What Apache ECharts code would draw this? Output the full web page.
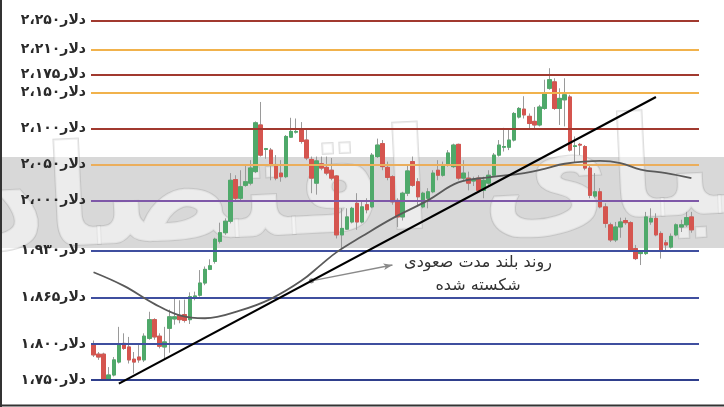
<!DOCTYPE html>
<html><head><meta charset="utf-8">
<script src="https://cdn.jsdelivr.net/npm/echarts@6/dist/echarts.min.js"></script>
<style>html,body{margin:0;padding:0;background:#fff}#c{width:724px;height:407px}</style>
</head><body><div id="c"></div>
<script>
// ---- data ----
// [open, close, low, high]
const candles = [
[1799,1785,1782,1805],[1786,1782,1778,1789],[1786,1751,1750,1788],[1751,1757,1750,1768],[1757,1778,1755,1782],
[1775,1799,1773,1824],[1801,1794,1792,1815],[1796,1778,1773,1810],[1779,1775,1759,1789],[1782,1778,1774,1801],
[1778,1811,1775,1815],[1808,1834,1806,1845],[1834,1810,1806,1836],[1811,1797,1794,1815],[1796,1803,1778,1824],
[1822,1838,1788,1848],[1835,1838,1827,1864],[1840,1834,1829,1861],[1841,1833,1830,1862],[1834,1866,1828,1872],
[1864,1867,1861,1873],[1868,1885,1866,1903],[1885,1904,1882,1908],[1904,1909,1903,1918],[1915,1946,1912,1948],
[1943,1955,1940,1969],[1955,1971,1952,1975],[1971,2028,1968,2038],[2029,2003,2000,2035],[2003,2019,2000,2042],
[2021,2026,2019,2049],[2024,2045,2021,2056],[2040,2108,2038,2110],[2105,2063,2061,2137],[2071,2072,2058,2073],
[2070,2049,2028,2073],[2050,2031,2028,2063],[2038,2033,2026,2056],[2033,2089,2031,2091],[2088,2096,2087,2115],
[2095,2096,2093,2114],[2098,2082,2079,2109],[2084,2059,2056,2098],[2057,2031,2010,2061],[2024,2055,2008,2061],
[2051,2045,2042,2061],[2046,2038,2035,2061],[2042,2031,2028,2059],[2034,1952,1947,2035],[1952,1961,1933,1989],
[1960,1977,1959,1989],[1970,1989,1968,1991],[1996,1970,1959,2010],[1970,1991,1968,1998],[1994,1987,1982,2003],
[1991,2063,1989,2066],[2061,2077,2059,2086],[2079,2047,2042,2084],[2046,2032,2028,2054],[2033,1998,1994,2035],
[2000,1977,1963,2003],[1977,2010,1972,2012],[2010,2041,2006,2050],[2054,2021,2019,2061],[2026,2005,1991,2031],
[1991,2010,1989,2012],[2003,2012,1989,2017],[2012,2038,2010,2042],[2042,2035,2028,2056],[2035,2048,2033,2054],
[2049,2066,2047,2070],[2047,2077,2045,2079],[2078,2031,2028,2079],[2031,2038,2028,2056],[2031,2024,2014,2040],
[2027,2029,2020,2033],[2031,2014,2012,2035],[2014,2028,2003,2033],[2024,2035,2021,2042],[2035,2063,2033,2066],
[2063,2077,2061,2084],[2074,2075,2068,2101],[2074,2084,2070,2098],[2084,2121,2082,2123],[2116,2128,2114,2130],
[2127,2119,2114,2145],[2117,2107,2100,2121],[2110,2105,2098,2130],[2105,2130,2103,2133],[2128,2150,2126,2168],
[2156,2168,2154,2184],[2165,2128,2126,2170],[2128,2142,2105,2156],[2140,2147,2103,2170],[2144,2070,2068,2147],
[2075,2076,2052,2089],[2078,2077,2063,2080],[2075,2045,2042,2077],[2045,2007,2003,2049],[2006,2012,2003,2038],
[2012,1991,1989,2017],[1991,1968,1962,1996],[1966,1945,1942,1969],[1945,1963,1942,1970],[1963,1970,1948,1976],
[1972,1969,1966,1976],[1969,1931,1929,1971],[1933,1919,1917,1938],[1926,1928,1910,1930],[1926,1977,1924,1984],
[1970,1975,1966,1989],[1975,1952,1950,1982],[1954,1931,1919,1957],[1941,1938,1929,1945],[1935,1950,1933,1954],
[1952,1966,1950,1968],[1963,1966,1956,1973],[1966,1976,1963,1984],[1977,1959,1955,1984]
];
const levelValues = [2250, 2210, 2175, 2150, 2100, 2050, 2000, 1930, 1865, 1800, 1750];
const levelLabels = ['۲،۲۵۰دلار','۲،۲۱۰دلار','۲،۱۷۵دلار','۲،۱۵۰دلار','۲،۱۰۰دلار','۲،۰۵۰دلار','۲،۰۰۰دلار','۱،۹۳۰دلار','۱،۸۶۵دلار','۱،۸۰۰دلار','۱،۷۵۰دلار'];
// moving average, [candle index, price]
const maPoints = [[0,1900],[6,1881],[12,1856],[17,1840],[22,1836],[29,1847],[35,1863],[41,1888],[45,1911],[48,1928],[53,1950],[59,1975],[66,2000],[72,2025],[78,2032],[85,2038],[89,2044],[93,2051],[100,2055],[104,2052],[108,2043],[113,2038],[118,2031]];
const trendPoints = [[5,1745],[111,2144]];
const arrowPoints = [[43,1888],[59,1910]];
const noteLines = ['روند بلند مدت صعودی', 'شکسته شده'];
const watermarkText = 'دنیای اقتصاد';
const categories = candles.map((_, i) => String(i + 1)).concat(['']);

// ---- styles ----
const levelColors = ['#a1392f','#f1b24c','#a1392f','#f1b24c','#a1392f','#ebae5c','#7e58a8','#3f4f9f','#3f4f9f','#3f4f9f','#2f3f8c'];
const UP = '#4fa96a', DOWN = '#d5554f', WICK = '#9a9a9a';

const chart = echarts.init(document.getElementById('c'), null, {renderer: 'canvas'});
const bodies = candles.map(([o, c]) => [o, c, Math.min(o, c), Math.max(o, c)]);

chart.setOption({
  animation: false,
  backgroundColor: '#ffffff',
  grid: {left: 91, right: 25, top: 13.6, bottom: 19.8},
  xAxis: {type: 'category', data: categories, boundaryGap: true, show: false},
  yAxis: {type: 'value', min: 1740, max: 2260, show: false, splitLine: {show: false}},
  graphic: [
    {type: 'rect', z: -20, shape: {x: 0, y: 157, width: 724, height: 91}, style: {fill: '#d8d8d8'}, silent: true},
    {type: 'text', z: -10, x: 408, y: 192, rotation: 0.05,
      style: {text: watermarkText, font: 'bold 140px "DejaVu Sans"', fill: 'rgba(255,255,255,0.5)', stroke: 'rgba(170,170,170,0.4)', lineWidth: 2, textAlign: 'center', textVerticalAlign: 'middle'}, silent: true},
    {type: 'line', shape: {x1: 1, y1: 0, x2: 1, y2: 407}, style: {stroke: '#333', lineWidth: 2}, silent: true},
    {type: 'line', shape: {x1: 0, y1: 405.5, x2: 724, y2: 405.5}, style: {stroke: '#333', lineWidth: 2}, silent: true},
    {type: 'text', x: 478, y: 263, style: {text: noteLines[0], font: '16px "DejaVu Sans"', fill: '#333', textAlign: 'center', textVerticalAlign: 'middle'}},
    {type: 'text', x: 478, y: 286, style: {text: noteLines[1], font: '16px "DejaVu Sans"', fill: '#333', textAlign: 'center', textVerticalAlign: 'middle'}}
  ],
  series: [
    {
      type: 'line', data: [], z: 1, silent: true,
      markLine: {
        silent: true, symbol: 'none', animation: false,
        data: levelValues.map((v, i) => ({
          yAxis: v,
          lineStyle: {color: levelColors[i], width: 2, type: 'solid'},
          label: {show: true, position: 'start', formatter: levelLabels[i], color: '#2a2a2a', fontSize: 14, fontWeight: 'bold', fontFamily: 'DejaVu Sans', distance: 5}
        }))
      }
    },
    {
      type: 'candlestick', data: candles, z: 3, barWidth: 4, silent: true,
      itemStyle: {color: 'transparent', color0: 'transparent', borderColor: WICK, borderColor0: WICK, borderWidth: 1}
    },
    {
      type: 'candlestick', data: bodies, z: 4, barWidth: 4, silent: true,
      itemStyle: {color: UP, color0: DOWN, borderColor: UP, borderColor0: DOWN, borderWidth: 1}
    },
    {
      type: 'line', data: maPoints, z: 5, smooth: 0.4, symbol: 'none', silent: true,
      lineStyle: {color: '#5a5a5a', width: 1.8}
    },
    {
      type: 'line', data: trendPoints, z: 6, symbol: 'none', silent: true,
      lineStyle: {color: '#000', width: 2.2},
      markLine: {
        silent: true, animation: false,
        symbol: ['circle', 'arrow'], symbolSize: [5, 9],
        lineStyle: {color: '#8a8a8a', width: 1.5, type: 'solid'},
        label: {show: false},
        data: [[{coord: arrowPoints[0]}, {coord: arrowPoints[1]}]]
      }
    }
  ]
});
</script>
</body></html>
